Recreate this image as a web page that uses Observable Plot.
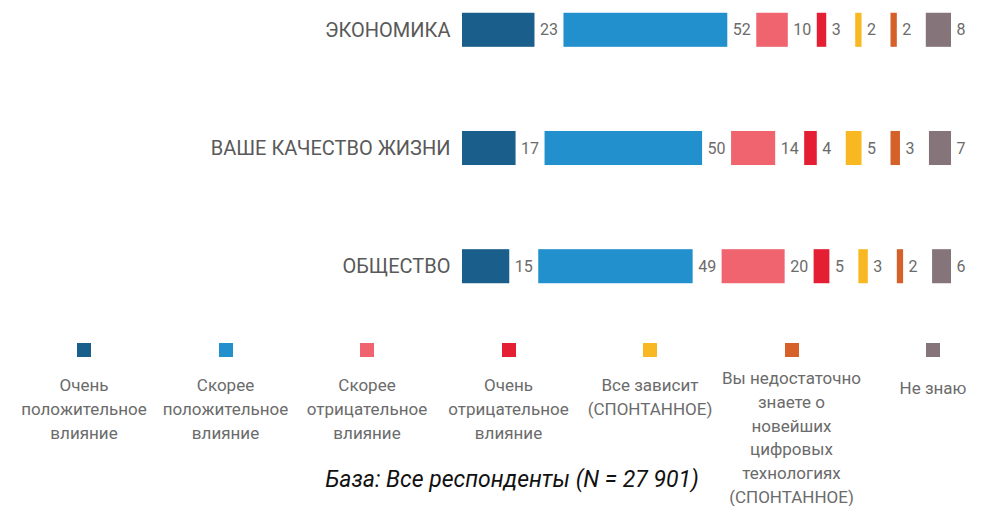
<!DOCTYPE html>
<html>
<head>
<meta charset="utf-8">
<script src="https://cdn.jsdelivr.net/npm/d3@7"></script>
<script src="https://cdn.jsdelivr.net/npm/@observablehq/plot@0.6"></script>
<style>
  html, body { margin: 0; padding: 0; background: #fff; }
  #wrap { position: relative; width: 982px; height: 506px; overflow: hidden; font-family: Roboto, "Noto Sans", sans-serif; }
  #chart { position: absolute; left: 0; top: 0; }
  .sw { position: absolute; width: 14px; height: 14px; }
  .lg { position: absolute; width: 160px; text-align: center; font-size: 17px; color: #6b6b6b; }
  .lg div { height: 18px; line-height: 18px; margin-bottom: 5.8px; white-space: nowrap; }
  #caption { position: absolute; left: 0; width: 1024px; top: 466px; text-align: center; font-style: italic; font-size: 23px; color: #111; }
</style>
</head>
<body>
<div id="wrap">
  <div id="chart"></div>
  <div id="legend"></div>
  <div id="caption"></div>
</div>
<script>
const categories = ["ЭКОНОМИКА", "ВАШЕ КАЧЕСТВО ЖИЗНИ", "ОБЩЕСТВО"];
const series = [
  "Очень положительное влияние",
  "Скорее положительное влияние",
  "Скорее отрицательное влияние",
  "Очень отрицательное влияние",
  "Все зависит (СПОНТАННОЕ)",
  "Вы недостаточно знаете о новейших цифровых технологиях (СПОНТАННОЕ)",
  "Не знаю"
];
const legendLines = [
  ["Очень", "положительное", "влияние"],
  ["Скорее", "положительное", "влияние"],
  ["Скорее", "отрицательное", "влияние"],
  ["Очень", "отрицательное", "влияние"],
  ["Все зависит", "(СПОНТАННОЕ)"],
  ["Вы недостаточно", "знаете о", "новейших", "цифровых", "технологиях", "(СПОНТАННОЕ)"],
  ["Не знаю"]
];
const economy = [23, 52, 10, 3, 2, 2, 8];
const quality = [17, 50, 14, 4, 5, 3, 7];
const society = [15, 49, 20, 5, 3, 2, 6];
const colors = ["#1a5e8c", "#2190cc", "#f0646f", "#e41f33", "#f8b822", "#d5602a", "#85747a"];
const caption = "База: Все респонденты (N = 27 901)";

const gap = 9.2; // spacing between segments, in value units
const valuesByCat = [economy, quality, society];

const rows = [];
categories.forEach((cat, ci) => {
  let cum = 0;
  valuesByCat[ci].forEach((v, i) => {
    const x1 = cum + i * gap;
    rows.push({category: cat, series: series[i], value: v, x1, x2: x1 + v});
    cum += v;
  });
});

const chart = Plot.plot({
  width: 982,
  height: 296,
  marginLeft: 462,
  marginRight: 31,
  marginTop: 0,
  marginBottom: 0,
  style: {fontFamily: "Roboto, 'Noto Sans', sans-serif", background: "white"},
  x: {domain: [0, 100 + 6 * gap], axis: null},
  y: {domain: categories, paddingInner: 0.712, paddingOuter: 0.108, round: false, label: null, axis: null},
  color: {domain: series, range: colors},
  marks: [
    Plot.barX(rows, {x1: "x1", x2: "x2", y: "category", fill: "series"}),
    Plot.text(rows, {x: "x2", y: "category", text: d => String(d.value), textAnchor: "start", dx: 5, fontSize: 16, fill: "#6b6b6b"}),
    Plot.axisY({tickSize: 0, tickPadding: 12, fontSize: 20, fill: "#595959", label: null})
  ]
});
document.getElementById("chart").appendChild(chart);

const legend = document.getElementById("legend");
series.forEach((s, i) => {
  const cx = 84 + i * 141.5;
  const sw = document.createElement("div");
  sw.className = "sw";
  sw.style.left = (cx - 7) + "px";
  sw.style.top = "343px";
  sw.style.background = colors[i];
  legend.appendChild(sw);
  const t = document.createElement("div");
  t.className = "lg";
  t.style.left = (cx - 80) + "px";
  t.style.top = (i === 5 ? 369 : (i === 6 ? 379 : 376)) + "px";
  legendLines[i].forEach(line => {
    const l = document.createElement("div");
    l.textContent = line;
    t.appendChild(l);
  });
  legend.appendChild(t);
});
document.getElementById("caption").textContent = caption;
</script>
</body>
</html>
